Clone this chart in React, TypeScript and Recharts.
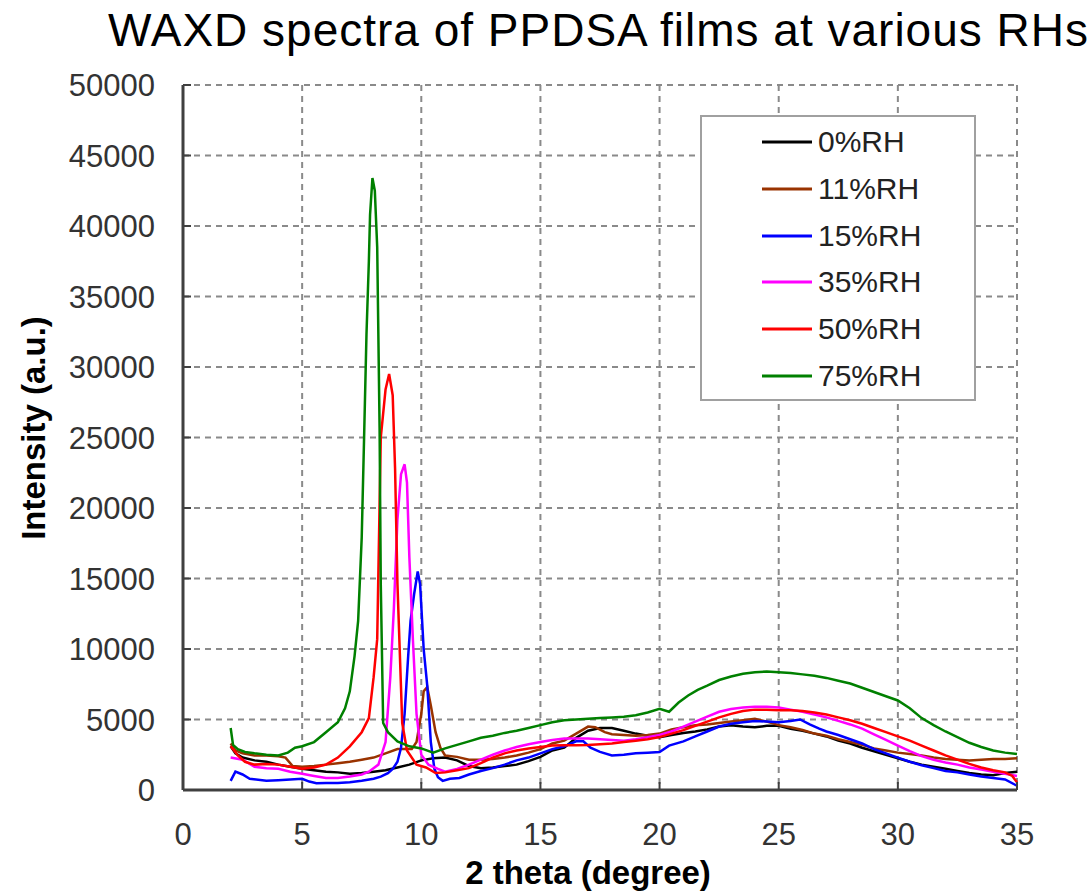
import { LineChart, Line, XAxis, YAxis, CartesianGrid, Legend, Label } from "recharts"

const FONT = "'Liberation Sans', Arial, sans-serif"

const xTicks = [0, 5, 10, 15, 20, 25, 30, 35]
const yTicks = [0, 5000, 10000, 15000, 20000, 25000, 30000, 35000, 40000, 45000, 50000]

// [2 theta, intensity]
const rh0: [number, number][] = [
    [2, 3100], [2.2, 2600], [2.5, 2300], [3, 2100], [3.5, 2000], [4, 1800], [4.5, 1650], [5, 1500], [5.5, 1400], [6, 1300],
    [6.5, 1250], [7, 1150], [7.5, 1200], [8, 1300], [8.5, 1400], [9, 1600], [9.5, 1800], [10, 2100], [10.5, 2250], [11, 2300],
    [11.5, 2100], [12, 1700], [12.5, 1550], [13, 1600], [13.5, 1700], [14, 1800], [14.5, 2050], [15, 2350], [15.5, 2800], [16, 3000],
    [16.5, 3700], [17, 4200], [17.5, 4400], [18, 4400], [18.5, 4200], [19, 4000], [19.5, 3850], [20, 3750], [20.5, 3900], [21, 4050],
    [21.5, 4150], [22, 4300], [22.5, 4500], [23, 4600], [23.5, 4500], [24, 4450], [24.5, 4550], [25, 4550], [25.5, 4350], [26, 4200],
    [26.5, 4000], [27, 3800], [27.5, 3500], [28, 3300], [28.5, 3000], [29, 2750], [29.5, 2500], [30, 2250], [30.5, 2000], [31, 1800],
    [31.5, 1650], [32, 1500], [32.5, 1350], [33, 1200], [33.5, 1100], [34, 1050], [34.5, 1200], [35, 1300],
]

const rh11: [number, number][] = [
    [2, 3300], [2.2, 2800], [2.5, 2600], [3, 2450], [3.5, 2450], [4, 2400], [4.3, 2300], [4.6, 1700], [5, 1650], [5.5, 1700],
    [6, 1800], [6.5, 1900], [7, 2000], [7.5, 2150], [8, 2300], [8.5, 2600], [9, 2900], [9.3, 2900], [9.6, 2900], [9.8, 3400],
    [10, 5400], [10.1, 7000], [10.25, 7300], [10.4, 6000], [10.6, 4100], [10.8, 3000], [11, 2450], [11.5, 2350], [12, 2150], [12.5, 2150],
    [13, 2200], [13.5, 2300], [14, 2450], [14.5, 2650], [15, 2900], [15.5, 3300], [16, 3500], [16.5, 4000], [17, 4500], [17.3, 4450],
    [17.7, 4100], [18, 3950], [18.5, 3900], [19, 3850], [19.5, 3900], [20, 4000], [20.5, 4300], [21, 4450], [21.5, 4600], [22, 4650],
    [22.5, 4750], [23, 4850], [23.5, 4950], [24, 5050], [24.5, 4850], [25, 4600], [25.5, 4450], [26, 4250], [26.5, 4000], [27, 3850],
    [27.5, 3600], [28, 3400], [28.5, 3200], [29, 2950], [29.5, 2800], [30, 2650], [30.5, 2550], [31, 2450], [31.5, 2300], [32, 2200],
    [32.5, 2150], [33, 2100], [33.5, 2150], [34, 2200], [34.5, 2200], [35, 2250],
]

const rh15: [number, number][] = [
    [2, 650], [2.2, 1300], [2.5, 1100], [2.8, 800], [3.5, 650], [4, 700], [4.5, 750], [5, 800], [5.3, 600], [5.6, 480],
    [6, 500], [6.5, 500], [7, 550], [7.5, 650], [8, 800], [8.3, 950], [8.6, 1200], [8.8, 1500], [9, 2000], [9.15, 3000],
    [9.3, 5400], [9.45, 9500], [9.55, 12000], [9.7, 13900], [9.85, 15500], [9.95, 14600], [10.1, 10000], [10.25, 7400], [10.4, 3400], [10.55, 1500],
    [10.7, 900], [10.9, 650], [11.2, 800], [11.6, 850], [12, 1100], [12.5, 1350], [13, 1550], [13.5, 1800], [14, 2100], [14.5, 2300],
    [15, 2600], [15.5, 2900], [16, 3100], [16.5, 3450], [16.8, 3450], [17.1, 3000], [17.5, 2700], [18, 2450], [18.5, 2500], [19, 2600],
    [19.5, 2650], [20, 2700], [20.4, 3150], [21, 3450], [21.5, 3800], [22, 4150], [22.5, 4500], [23, 4700], [23.5, 4800], [24, 4900],
    [24.5, 4850], [25, 4800], [25.5, 4900], [25.9, 5000], [26.3, 4650], [26.7, 4350], [27, 4150], [27.5, 3900], [28, 3600], [28.5, 3300],
    [29, 2900], [29.5, 2600], [30, 2300], [30.5, 2000], [31, 1750], [31.5, 1550], [32, 1350], [32.5, 1250], [33, 1100], [33.5, 950],
    [34, 850], [34.5, 750], [35, 300],
]

const rh35: [number, number][] = [
    [2, 2300], [2.5, 2150], [3, 1650], [3.5, 1550], [4, 1500], [4.5, 1300], [5, 1150], [5.5, 1000], [6, 850], [6.5, 850],
    [7, 950], [7.5, 1100], [7.8, 1300], [8.2, 1800], [8.5, 3400], [8.7, 8000], [8.85, 12900], [9, 19200], [9.15, 22400], [9.3, 23100],
    [9.4, 21800], [9.5, 16500], [9.65, 10600], [9.8, 5400], [10, 2500], [10.3, 1800], [10.7, 1500], [11, 1300], [11.5, 1500], [12, 1800],
    [12.5, 2150], [13, 2500], [13.5, 2800], [14, 3050], [14.5, 3250], [15, 3400], [15.5, 3550], [16, 3650], [16.5, 3650], [17, 3650],
    [17.5, 3600], [18, 3550], [18.5, 3500], [19, 3600], [19.5, 3750], [20, 3900], [20.5, 4150], [21, 4500], [21.5, 4850], [22, 5200],
    [22.5, 5550], [23, 5750], [23.5, 5850], [24, 5900], [24.5, 5900], [25, 5850], [25.5, 5700], [26, 5550], [26.5, 5350], [27, 5150],
    [27.5, 4900], [28, 4650], [28.5, 4350], [29, 3950], [29.5, 3550], [30, 3150], [30.5, 2750], [31, 2400], [31.5, 2150], [32, 1950],
    [32.5, 1800], [33, 1600], [33.5, 1450], [34, 1300], [34.5, 1150], [35, 1000],
]

const rh50: [number, number][] = [
    [2, 3100], [2.3, 2450], [2.6, 2000], [3, 1800], [3.5, 1850], [4, 1800], [4.5, 1650], [5, 1500], [5.5, 1600], [6, 1800],
    [6.5, 2300], [7, 3100], [7.5, 4100], [7.8, 5100], [8, 8000], [8.15, 10700], [8.3, 25000], [8.5, 28400], [8.65, 29500], [8.8, 28000],
    [8.9, 22800], [9, 14600], [9.2, 4750], [9.4, 2800], [9.8, 1800], [10.2, 1600], [10.6, 1200], [11, 1250], [11.5, 1400], [12, 1550],
    [12.5, 1900], [13, 2300], [13.5, 2600], [14, 2800], [14.5, 2950], [15, 3050], [15.5, 3150], [16, 3180], [16.5, 3170], [17, 3200],
    [17.5, 3250], [18, 3300], [18.5, 3400], [19, 3500], [19.5, 3600], [20, 3750], [20.5, 4000], [21, 4250], [21.5, 4550], [22, 4850],
    [22.5, 5150], [23, 5400], [23.5, 5600], [24, 5700], [24.5, 5700], [25, 5650], [25.5, 5650], [26, 5600], [26.5, 5500], [27, 5350],
    [27.5, 5150], [28, 4950], [28.5, 4700], [29, 4400], [29.5, 4100], [30, 3800], [30.5, 3500], [31, 3150], [31.5, 2800], [32, 2450],
    [32.5, 2150], [33, 1850], [33.5, 1600], [34, 1400], [34.5, 1250], [34.8, 1000], [35, 550],
]

const rh75: [number, number][] = [
    [2, 4400], [2.1, 3200], [2.3, 2900], [2.6, 2700], [3, 2600], [3.5, 2500], [4, 2450], [4.4, 2650], [4.7, 3000], [5, 3100],
    [5.5, 3400], [6, 4100], [6.5, 4800], [6.8, 5800], [7, 7000], [7.2, 9500], [7.35, 12000], [7.5, 17900], [7.6, 25000], [7.7, 32300],
    [7.8, 37500], [7.85, 40800], [7.95, 43400], [8.05, 42500], [8.15, 38500], [8.25, 25700], [8.3, 14600], [8.4, 4750], [8.6, 4100], [9, 3450],
    [9.5, 3100], [10, 2950], [10.5, 2650], [11, 2950], [11.5, 3200], [12, 3450], [12.5, 3700], [13, 3850], [13.5, 4050], [14, 4200],
    [14.5, 4400], [15, 4600], [15.5, 4800], [16, 4950], [16.5, 5000], [17, 5050], [17.5, 5100], [18, 5150], [18.5, 5200], [19, 5300],
    [19.5, 5500], [20, 5750], [20.4, 5550], [20.8, 6200], [21.2, 6700], [21.6, 7100], [22, 7400], [22.5, 7800], [23, 8050], [23.5, 8250],
    [24, 8350], [24.5, 8400], [25, 8350], [25.5, 8300], [26, 8200], [26.5, 8100], [27, 7950], [27.5, 7750], [28, 7550], [28.5, 7250],
    [29, 6950], [29.5, 6650], [30, 6350], [30.5, 5800], [31, 5100], [31.5, 4600], [32, 4150], [32.5, 3750], [33, 3350], [33.5, 3050],
    [34, 2800], [34.5, 2650], [35, 2550],
]

const series = [
    { name: "0%RH", color: "#000000", points: rh0 },
    { name: "11%RH", color: "#993300", points: rh11 },
    { name: "15%RH", color: "#0000ff", points: rh15 },
    { name: "35%RH", color: "#ff00ff", points: rh35 },
    { name: "50%RH", color: "#ff0000", points: rh50 },
    { name: "75%RH", color: "#008000", points: rh75 },
]

function LegendBox() {
    return (
        <div style={{
            width: 276, height: 286, boxSizing: "border-box", background: "#fff",
            border: "2px solid #a0a0a0", paddingTop: 2, fontFamily: FONT,
        }}>
            {series.map(s => (
                <div key={s.name} style={{ display: "flex", alignItems: "center", height: 46.7 }}>
                    <svg width={116} height={10}>
                        <line x1={60} y1={5} x2={110} y2={5} stroke={s.color} strokeWidth={3} />
                    </svg>
                    <span style={{ fontSize: 30, color: "#222" }}>{s.name}</span>
                </div>
            ))}
        </div>
    )
}

export default function App() {
    return (
        <div style={{ position: "fixed", left: 0, top: 0, width: 1092, height: 892, background: "#fff" }}>
            <div style={{
                position: "absolute", left: 108, top: 3, fontFamily: FONT, fontSize: 46, letterSpacing: 1,
                color: "#000", whiteSpace: "nowrap",
            }}>
                WAXD spectra of PPDSA films at various RHs
            </div>
            <LineChart width={1092} height={892} margin={{ top: 85, right: 75, left: 0, bottom: 0 }}>
                <CartesianGrid stroke="#8a8a8a" strokeWidth={2} strokeDasharray="6 5" />
                <XAxis
                    dataKey="x" type="number" domain={[0, 35]} ticks={xTicks} height={102}
                    axisLine={{ stroke: "#404040", strokeWidth: 3 }} tickLine={{ stroke: "#404040", strokeWidth: 2 }}
                    tickSize={-8} tickMargin={41}
                    tick={{ fill: "#333", fontSize: 31, fontFamily: FONT }}
                >
                    <Label content={() => (
                        <text x={588} y={884} textAnchor="middle" fontFamily={FONT} fontSize={33} fontWeight="bold" fill="#000">
                            2 theta (degree)
                        </text>
                    )} />
                </XAxis>
                <XAxis
                    xAxisId="top" orientation="top" type="number" domain={[0, 35]} height={0}
                    tick={false} tickLine={false} axisLine={{ stroke: "#9a9a9a", strokeWidth: 2 }}
                />
                <YAxis
                    type="number" domain={[0, 50000]} ticks={yTicks} width={183}
                    axisLine={{ stroke: "#404040", strokeWidth: 3 }} tickLine={{ stroke: "#404040", strokeWidth: 2 }}
                    tickSize={-8} tickMargin={36}
                    tick={{ fill: "#333", fontSize: 31, fontFamily: FONT }}
                >
                    <Label content={() => (
                        <text x={45} y={428} transform="rotate(-90 45 428)" textAnchor="middle" fontFamily={FONT}
                            fontSize={33} fontWeight="bold" fill="#000">
                            Intensity (a.u.)
                        </text>
                    )} />
                </YAxis>
                <YAxis
                    yAxisId="right" orientation="right" type="number" domain={[0, 50000]} width={0}
                    tick={false} tickLine={false} axisLine={{ stroke: "#9a9a9a", strokeWidth: 2 }}
                />
                {series.map(s => (
                    <Line
                        key={s.name} name={s.name} data={s.points.map(([x, y]) => ({ x, y }))} dataKey="y"
                        stroke={s.color} strokeWidth={2.5} dot={false} type="linear" isAnimationActive={false}
                    />
                ))}
                <Legend
                    layout="vertical" align="center" verticalAlign="middle"
                    wrapperStyle={{ left: 700, top: 115, width: 276, height: 286 }}
                    content={() => <LegendBox />}
                />
            </LineChart>
        </div>
    )
}
